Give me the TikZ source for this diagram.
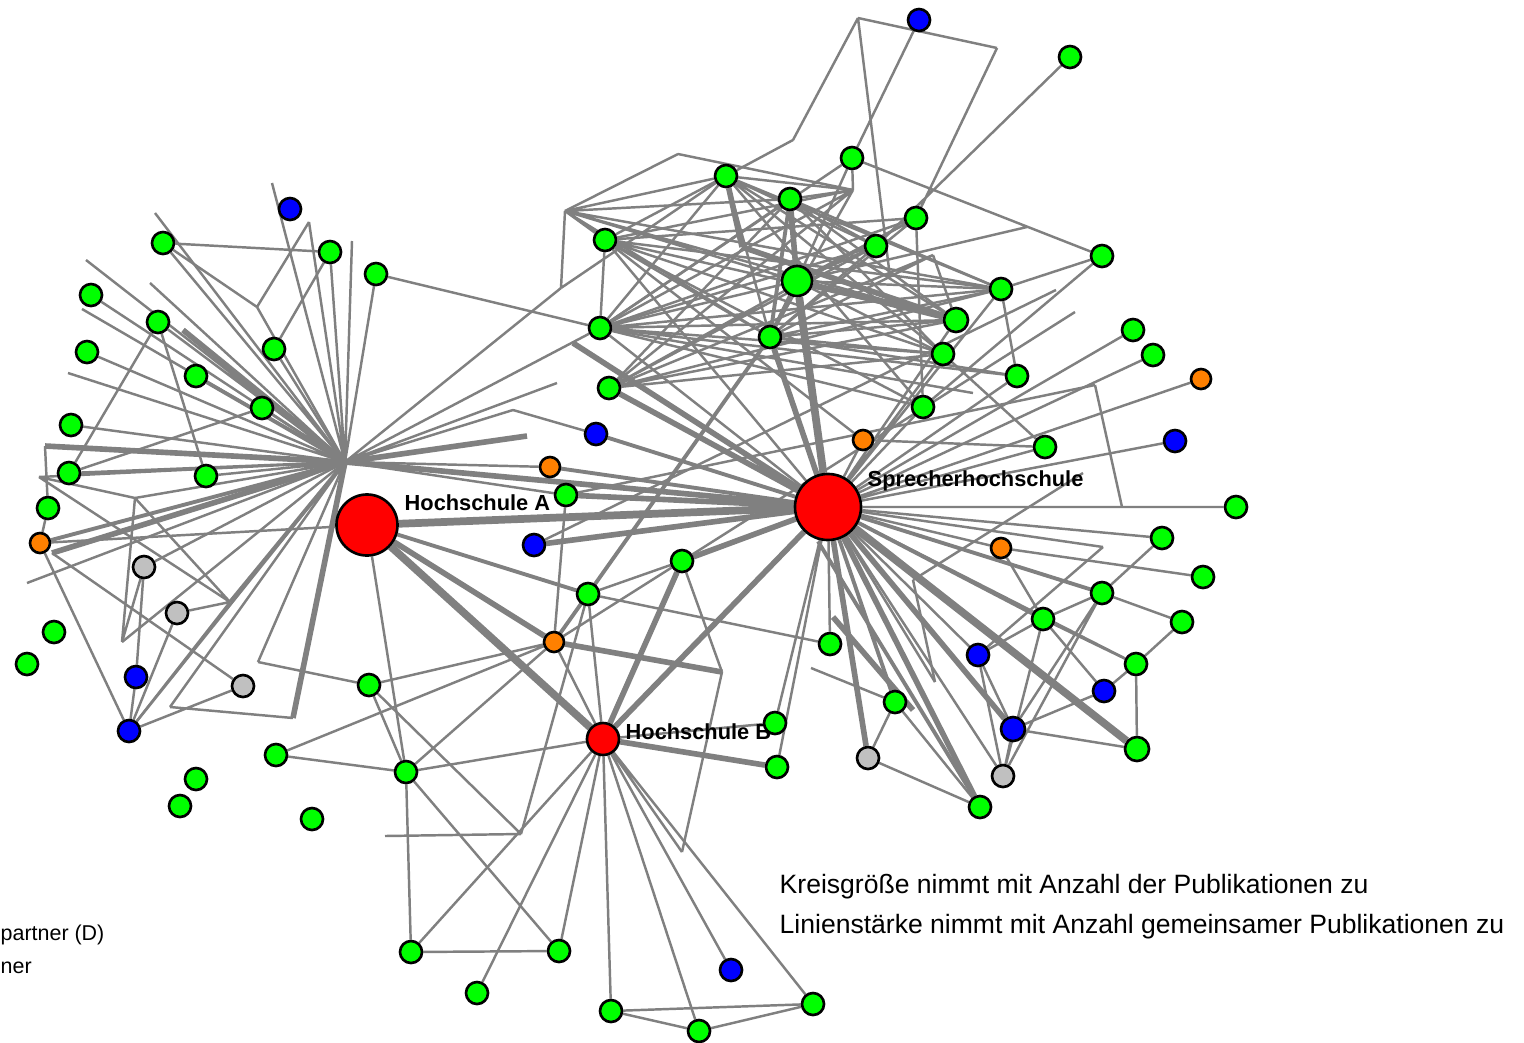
\documentclass[tikz,border=0pt]{standalone}
\usepackage{fontspec}
\setmainfont{Liberation Sans}
\usetikzlibrary{backgrounds}
\definecolor{kgreen}{RGB}{0,255,0}
\definecolor{kblue}{RGB}{0,0,255}
\definecolor{kred}{RGB}{255,0,0}
\definecolor{korange}{RGB}{255,128,0}
\definecolor{kgray}{RGB}{192,192,192}
\definecolor{klink}{RGB}{128,128,128}
\begin{document}
\begin{tikzpicture}[x=0.01cm,y=-0.01cm,
 knot/.style={circle,draw=black,line width=0.75pt,inner sep=0pt,minimum size=0.22cm},
 gnode/.style={knot,fill=kgreen},bnode/.style={knot,fill=kblue},onode/.style={knot,fill=korange,minimum size=0.2cm},
 snode/.style={knot,fill=kgray},rnode/.style={knot,fill=kred},
 lnk/.style={klink,line width=0.7pt},lnkm/.style={klink,line width=1.1pt},lnkt/.style={klink,line width=1.6pt},lnkx/.style={klink,line width=2.2pt},
 lbl/.style={font=\fontsize{6.2}{7}\selectfont\bfseries,anchor=west,inner sep=0pt},
 legend/.style={font=\fontsize{7.55}{9}\selectfont,anchor=west,inner sep=0pt},
 legendl/.style={font=\fontsize{6.1}{7}\selectfont,anchor=west,inner sep=0pt}]
\useasboundingbox (0,0) rectangle (1524,1042);
% main nodes
\node[rnode,minimum size=0.61cm] (hsA) at (367,525) {};
\node[rnode,minimum size=0.66cm] (spr) at (828,507) {};
\node[rnode,minimum size=0.32cm] (hsB) at (603,739) {};
\node[lbl] (lblA) at (404,503) {Hochschule A};
\node[lbl] (lblS) at (867,481) {Sprecherhochschule};
\node[lbl] (lblB) at (625,732) {Hochschule B};
% top cluster
\node[bnode] (bT) at (919,20) {};
\node[gnode] (gT1) at (1070,57) {};
\node[gnode] (gT2) at (852,158) {};
\node[gnode] (gT3) at (726,176) {};
\node[gnode] (gT4) at (790,199) {};
\node[gnode] (gT5) at (916,218) {};
\node[gnode] (gT6) at (876,246) {};
\node[gnode] (gT7) at (1102,256) {};
\node[gnode] (gT8) at (605,240) {};
\node[gnode,minimum size=0.3cm] (gBig) at (797,281) {};
\node[gnode] (gT9) at (1001,289) {};
\node[gnode,minimum size=0.24cm] (gT10) at (956,320) {};
\node[gnode] (gT11) at (600,328) {};
\node[gnode] (gT12) at (770,337) {};
\node[gnode] (gT13) at (943,354) {};
\node[gnode] (gT14) at (1017,376) {};
\node[gnode] (gT15) at (609,388) {};
\node[gnode] (gT16) at (923,407) {};
% right side
\node[gnode] (gR1) at (1133,330) {};
\node[gnode] (gR2) at (1153,355) {};
\node[onode] (oR1) at (1201,379) {};
\node[bnode] (bR1) at (1175,441) {};
\node[gnode] (gR3) at (1045,447) {};
\node[onode] (oC1) at (863,440) {};
\node[gnode] (gR4) at (1236,507) {};
\node[gnode] (gR5) at (1162,538) {};
\node[onode] (oR2) at (1001,548) {};
\node[gnode] (gR6) at (1203,577) {};
\node[gnode] (gR7) at (1102,593) {};
\node[gnode] (gR8) at (1043,619) {};
\node[gnode] (gR9) at (1182,622) {};
\node[gnode] (gR10) at (830,644) {};
\node[bnode] (bR2) at (978,655) {};
\node[gnode] (gR11) at (1136,664) {};
\node[bnode] (bR3) at (1104,691) {};
\node[gnode] (gR12) at (895,702) {};
\node[bnode,minimum size=0.24cm] (bR4) at (1013,729) {};
\node[gnode,minimum size=0.24cm] (gR13) at (1137,749) {};
\node[gnode] (gR14) at (775,723) {};
\node[gnode] (gR15) at (777,767) {};
\node[snode] (sR1) at (868,758) {};
\node[snode] (sR2) at (1003,776) {};
\node[gnode] (gR16) at (980,807) {};
% centre
\node[bnode] (bC1) at (596,434) {};
\node[onode] (oC2) at (550,467) {};
\node[gnode] (gC1) at (566,495) {};
\node[bnode] (bC2) at (534,545) {};
\node[gnode] (gC2) at (682,561) {};
\node[gnode] (gC3) at (588,594) {};
\node[onode] (oC3) at (554,642) {};
% bottom
\node[gnode] (gB1) at (369,685) {};
\node[gnode] (gB2) at (276,755) {};
\node[gnode] (gB3) at (406,772) {};
\node[gnode] (gB4) at (196,779) {};
\node[gnode] (gB5) at (180,806) {};
\node[gnode] (gB6) at (312,819) {};
\node[gnode] (gB7) at (411,952) {};
\node[gnode] (gB8) at (559,951) {};
\node[gnode] (gB9) at (477,993) {};
\node[bnode] (bB1) at (731,970) {};
\node[gnode] (gB10) at (611,1011) {};
\node[gnode] (gB11) at (699,1031) {};
\node[gnode] (gB12) at (813,1004) {};
% left side
\node[bnode] (bL1) at (290,209) {};
\node[gnode] (gL1) at (163,243) {};
\node[gnode] (gL2) at (330,252) {};
\node[gnode] (gL3) at (376,274) {};
\node[gnode] (gL4) at (91,295) {};
\node[gnode] (gL5) at (158,322) {};
\node[gnode] (gL6) at (274,349) {};
\node[gnode] (gL7) at (87,352) {};
\node[gnode] (gL8) at (196,376) {};
\node[gnode] (gL9) at (262,408) {};
\node[gnode] (gL10) at (71,425) {};
\node[gnode] (gL11) at (69,473) {};
\node[gnode] (gL12) at (206,476) {};
\node[gnode] (gL13) at (48,508) {};
\node[onode] (oL1) at (40,543) {};
\node[snode] (sL1) at (144,567) {};
\node[snode] (sL2) at (177,613) {};
\node[gnode] (gL14) at (54,632) {};
\node[gnode] (gL15) at (27,664) {};
\node[bnode] (bL2) at (136,677) {};
\node[snode] (sL3) at (243,686) {};
\node[bnode] (bL3) at (129,731) {};
% legend
\node[legend] (leg1) at (779,887) {Kreisgröße nimmt mit Anzahl der Publikationen zu};
\node[legend] (leg2) at (779,927) {Linienstärke nimmt mit Anzahl gemeinsamer Publikationen zu};
\node[legendl] (legL1) at (0,935) {partner (D)};
\node[legendl] (legL2) at (0,968) {ner};
% free ends
\coordinate (hubA) at (345,462);
\coordinate (e1) at (155,213);
\coordinate (e2) at (272,183);
\coordinate (e3) at (309,222);
\coordinate (e4) at (257,307);
\coordinate (e5) at (352,241);
\coordinate (e6) at (86,260);
\coordinate (e7) at (150,283);
\coordinate (e8) at (82,309);
\coordinate (e9) at (183,330);
\coordinate (e10) at (68,373);
\coordinate (e11) at (45,446);
\coordinate (e12) at (39,477);
\coordinate (e13) at (52,553);
\coordinate (e14) at (27,583);
\coordinate (e15) at (135,498);
\coordinate (e16) at (122,642);
\coordinate (e17) at (230,602);
\coordinate (e18) at (170,707);
\coordinate (e19) at (293,718);
\coordinate (e20) at (527,436);
\coordinate (e21) at (557,383);
\coordinate (e22) at (561,288);
\coordinate (e23) at (565,211);
\coordinate (e24) at (513,410);
\coordinate (e25) at (722,672);
\coordinate (e26) at (682,852);
\coordinate (e27) at (385,836);
\coordinate (e28) at (521,834);
\coordinate (e29) at (858,18);
\coordinate (e30) at (997,48);
\coordinate (e31) at (678,154);
\coordinate (e32) at (793,140);
\coordinate (e33) at (890,277);
\coordinate (e34) at (742,247);
\coordinate (e35) at (853,190);
\coordinate (e36) at (933,255);
\coordinate (e37) at (1027,227);
\coordinate (e38) at (1095,385);
\coordinate (e39) at (1122,507);
\coordinate (e40) at (1056,290);
\coordinate (e41) at (1075,312);
\coordinate (e42) at (1083,473);
\coordinate (e43) at (1103,547);
\coordinate (e44) at (913,580);
\coordinate (e45) at (935,682);
\coordinate (e46) at (811,668);
\coordinate (e47) at (833,617);
\coordinate (e48) at (913,710);
\coordinate (e49) at (258,662);
\coordinate (e50) at (973,393);
\coordinate (e51) at (573,343);
\begin{pgfonlayer}{background}
% Hochschule A
\draw[lnk] (hubA)--(e1) (hubA)--(e2) (hubA)--(e3) (hubA)--(e4) (hubA)--(e5) (hubA)--(gL1) (hubA)--(gL2) (hubA)--(gL3);
\draw[lnk] (hubA)--(e6) (hubA)--(e7) (hubA)--(gL4) (hubA)--(e8) (hubA)--(gL5) (hubA)--(gL6) (hubA)--(gL7) (hubA)--(e10);
\draw[lnk] (hubA)--(gL9) (hubA)--(gL10) (hubA)--(gL11) (hubA)--(gL12) (hubA)--(e12) (hubA)--(e14) (hubA)--(e15) (hubA)--(e16);
\draw[lnk] (hubA)--(e18) (hubA)--(sL1) (hubA)--(bL3) (hubA)--(e21) (hubA)--(e22) (hubA)--(e24) (hubA)--(gC1) (hubA)--(oC2) (hubA)--(e49) (hubA)--(gT11) (hubA)--(spr);
\draw[lnkm] (hubA)--(gL8) (hubA)--(oL1) (hubA)--(e17);
\draw[lnkt] (hubA)--(e9) (hubA)--(e11) (hubA)--(e13) (hubA)--(e19) (hubA)--(e20) (hubA)--(spr);
\draw[lnkx] (hsA)--(spr) (hsA)--(hsB);
\draw[lnkt] (hsA)--(oC3);
\draw[lnkm] (hsA)--(gC3);
\draw[lnk] (hsA)--(oL1) (hsA)--(gB3);
% left side
\draw[lnk] (gL1)--(gL2) (gL1)--(e4) (e3)--(e4) (gL2)--(gL6) (gL3)--(gT11) (gL5)--(gL11) (gL5)--(gL12) (gL9)--(gL11);
\draw[lnk] (e11)--(gL13) (gL13)--(oL1) (oL1)--(bL3) (bL3)--(bL2) (bL3)--(sL2) (bL3)--(sL3) (bL3)--(e17) (e18)--(e19);
\draw[lnk] (e15)--(e17) (e15)--(e16) (e16)--(sL1) (sL1)--(bL2) (sL2)--(e17) (e12)--(e15) (e12)--(e17) (e13)--(sL3);
% centre
\draw[lnkt] (gC1)--(spr) (bC2)--(spr) (gC2)--(spr) (gC2)--(hsB) (hsB)--(spr) (e51)--(spr) (gT15)--(spr) (oC3)--(e25);
\draw[lnkm] (oC2)--(spr) (bC1)--(spr) (oC3)--(gT12);
\draw[lnk] (gC1)--(oC3) (bC1)--(e24) (gC2)--(gC3) (gC2)--(e25) (gC3)--(hsB) (gC3)--(gR10) (gC3)--(oC3) (oC3)--(hsB) (oC3)--(gC2);
\draw[lnk] (gB1)--(oC3) (gB2)--(oC3) (gB3)--(oC3);
% Hochschule B
\draw[lnk] (hsB)--(gB3) (hsB)--(gB7) (hsB)--(gB8) (hsB)--(gB9) (hsB)--(gB10) (hsB)--(gB11) (hsB)--(bB1) (hsB)--(gB12) (hsB)--(e26) (hsB)--(gR14);
\draw[lnkt] (hsB)--(gR15);
\draw[lnk] (gB3)--(gB7) (gB3)--(gB8) (gB7)--(gB8) (gB2)--(gB3) (gB1)--(gB3) (gB1)--(e49) (e27)--(e28) (e28)--(gC3) (e28)--(gB1);
\draw[lnk] (gB10)--(gB11) (gB10)--(gB12) (gB11)--(gB12) (e26)--(e25);
% top cluster
\draw[lnk] (e29)--(e30) (e29)--(e32) (e29)--(e33) (e30)--(gT5) (bT)--(gT2) (e32)--(gT3) (gT1)--(gT6) (gT2)--(gT7) (e37)--(gBig);
\draw[lnk] (gT2)--(e35) (gT2)--(gBig) (gT2)--(gT11) (e23)--(e31) (e31)--(e35) (e23)--(e22) (e22)--(gT3);
\draw[lnk] (e23)--(gT3) (e23)--(gT4) (e23)--(gT8) (e23)--(gBig) (e23)--(gT10) (e23)--(gT12) (e23)--(gT9);
\draw[lnk] (gT3)--(e35) (gT3)--(gT10) (gT3)--(gT9) (gT3)--(gT11) (gT3)--(gT12) (gT3)--(gT8) (gT3)--(gT6) (gT3)--(gT13) (gT3)--(gT16);
\draw[lnkt] (gT3)--(e34) (e34)--(gT10) (gT4)--(gBig) (gBig)--(gT10);
\draw[lnkx] (gBig)--(spr);
\draw[lnkt] (gT12)--(spr);
\draw[lnkm] (gT4)--(gT12) (gBig)--(gT12);
\draw[lnk] (gT4)--(e35) (gT4)--(gT10) (gT4)--(gT9) (gT4)--(gT13) (gT4)--(gT11) (gT4)--(gT15) (gT4)--(gT6);
\draw[lnk] (gT8)--(gT11) (gT8)--(gT9) (gT8)--(gT10) (gT8)--(gT13) (gT8)--(gT12) (gT8)--(spr) (gT8)--(gT16) (gT8)--(gT5);
\draw[lnk] (gT11)--(gT9) (gT11)--(gT10) (gT11)--(gBig) (gT11)--(gT13) (gT11)--(gT14) (gT11)--(spr) (gT11)--(gT16) (gT11)--(gT5);
\draw[lnk] (gBig)--(gT9) (gBig)--(gT13) (gBig)--(gT6) (gBig)--(gT5);
\draw[lnk] (gT12)--(gT10) (gT12)--(gT9) (gT12)--(gT13) (gT12)--(gT6) (gT12)--(gT14);
\draw[lnk] (e35)--(gT11) (e35)--(gT15) (e35)--(gT12) (e35)--(gT8) (gT5)--(gT15) (gT5)--(gT12) (gT5)--(gT16) (gT6)--(gT15) (gT6)--(gT11);
\draw[lnk] (gT9)--(gT7) (gT9)--(gT14) (gT9)--(spr) (gT9)--(gT15) (gT10)--(spr) (gT10)--(gT15) (gT13)--(spr) (gT13)--(gT15) (gT13)--(gR3);
\draw[lnk] (gT14)--(spr) (gT16)--(spr) (e36)--(gT10) (e36)--(gT15) (e36)--(gT12) (gT7)--(gT16);
\draw[lnk] (e50)--(gT11) (e40)--(bC2) (e41)--(gC2) (e38)--(e39) (e38)--(gC1);
% Sprecherhochschule
\draw[lnk] (spr)--(gR1) (spr)--(gR2) (spr)--(oR1) (spr)--(bR1) (spr)--(gR3) (spr)--(oC1) (spr)--(gR4) (spr)--(e43) (spr)--(e45);
\draw[lnk] (spr)--(gR14) (spr)--(gR15) (spr)--(gR10) (spr)--(bR2) (spr)--(gR11) (spr)--(gR5) (spr)--(oR2) (spr)--(sR2);
\draw[lnkt] (spr)--(sR1) (spr)--(gR16) (spr)--(bR4) (e47)--(e48);
\draw[lnkm] (spr)--(gR12) (spr)--(gR8) (spr)--(gR7) ([xshift=-0.1cm]spr.south)--(gR16);
\draw[lnkx] (spr)--(gR13);
\draw[lnk] (e46)--(gR12) (e44)--(e45) (e44)--(e42) (e43)--(bR2) (gR12)--(sR1) (gR12)--(gR16) (sR1)--(gR16);
\draw[lnk] (sR2)--(bR2) (sR2)--(bR4) (sR2)--(gR7) (sR2)--(gR8) (bR2)--(gR8) (bR2)--(bR4) (bR4)--(gR13) (bR4)--(bR3) (bR4)--(gR7);
\draw[lnk] (gR13)--(gR11) (gR11)--(gR9) (gR11)--(bR3) (gR11)--(gR8) (gR7)--(gR9) (gR7)--(gR5) (gR7)--(gR8) (oR2)--(gR6) (oR2)--(gR8) (bR3)--(gR8);
\draw[lnk] (oC1)--(gT8) (gR3)--(oC1);
\end{pgfonlayer}
\end{tikzpicture}
\end{document}
